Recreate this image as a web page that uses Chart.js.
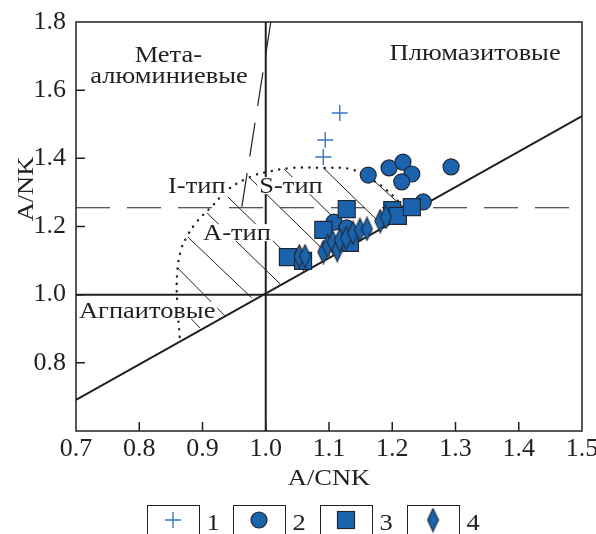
<!DOCTYPE html>
<html>
<head>
<meta charset="utf-8">
<script src="https://cdn.jsdelivr.net/npm/chart.js@4.4.0/dist/chart.umd.min.js"></script>
<style>
body{margin:0;background:#fff}
#wrap{width:596px;height:534px}
</style>
</head>
<body>
<div id="wrap"><canvas id="grafShand" width="596" height="534"></canvas></div>
<script>
// Диаграмма A/NK - A/CNK (Shand)

// ejes
var xTicks = [0.7, 0.8, 0.9, 1.0, 1.1, 1.2, 1.3, 1.4, 1.5];
var yTicks = [0.8, 1.0, 1.2, 1.4, 1.6, 1.8];

// 1 - cruces
var serie1X = [1.117, 1.094, 1.091];
var serie1Y = [1.533, 1.454, 1.404];
// 2 - circulos
var serie2X = [1.162, 1.195, 1.217, 1.231, 1.215, 1.293, 1.249, 1.108, 1.128];
var serie2Y = [1.351, 1.372, 1.389, 1.354, 1.331, 1.375, 1.272, 1.213, 1.196];
// 3 - cuadrados
var serie3X = [1.035, 1.059, 1.091, 1.128, 1.133, 1.200, 1.209, 1.231];
var serie3Y = [1.110, 1.099, 1.190, 1.251, 1.152, 1.248, 1.231, 1.257];
// 4 - rombos
var serie4X = [1.053, 1.062, 1.091, 1.098, 1.106, 1.113, 1.117, 1.127, 1.138, 1.149, 1.160, 1.181, 1.190];
var serie4Y = [1.113, 1.113, 1.125, 1.143, 1.154, 1.131, 1.160, 1.166, 1.181, 1.190, 1.193, 1.216, 1.228];

// lineas de los campos
var diagX = [0.7, 1.5];
var diagY = [0.691, 1.524];
var rayaHorizX = [0.7, 1.481];
var rayaHorizY = [1.255, 1.255];
var rayaVertX = [1.008, 0.962];
var rayaVertY = [1.8, 1.255];
// contorno punteado del campo A-tipo
var puntosX = [0.864, 0.860, 0.860, 0.866, 0.875, 0.888, 0.901, 0.917, 0.939, 0.975, 1.002, 1.043, 1.091, 1.133, 1.160, 1.185, 1.212, 1.222];
var puntosY = [0.876, 0.973, 1.064, 1.131, 1.169, 1.207, 1.234, 1.263, 1.307, 1.345, 1.360, 1.372, 1.372, 1.369, 1.345, 1.316, 1.269, 1.240];
// rayado (inicio y fin de cada linea)
var rayadoX0 = [0.860, 0.861, 0.877, 0.907, 0.940, 0.975, 1.029, 1.091, 1.154];
var rayadoY0 = [0.973, 1.078, 1.169, 1.240, 1.287, 1.342, 1.369, 1.372, 1.363];
var rayadoX1 = [0.896, 0.936, 0.978, 1.023, 1.062, 1.103, 1.146, 1.187, 1.227];
var rayadoY1 = [0.902, 0.937, 0.990, 1.031, 1.066, 1.110, 1.155, 1.199, 1.240];

var etiquetas = [
  {t: 'Мета-', x: 0.846, y: 1.683, fondo: false},
  {t: 'алюминиевые', x: 0.847, y: 1.621, fondo: false},
  {t: 'Плюмазитовые', x: 1.331, y: 1.688, fondo: false},
  {t: 'I-тип', x: 0.891, y: 1.298, fondo: true},
  {t: 'S-тип', x: 1.040, y: 1.298, fondo: true},
  {t: 'A-тип', x: 0.9545, y: 1.160, fondo: true},
  {t: 'Агпаитовые', x: 0.8125, y: 0.9315, fondo: true}
];

var azul = '#1b64ad';
var borde = '#1e2835';
var negro = '#231f20';

function pares(xs, ys) {
  return xs.map(function (v, i) { return {x: v, y: ys[i]}; });
}

function crearRombo() {
  var c = document.createElement('canvas');
  c.width = 13; c.height = 25;
  var g = c.getContext('2d');
  g.beginPath();
  g.moveTo(6.5, 1); g.lineTo(12, 12.5); g.lineTo(6.5, 24); g.lineTo(1, 12.5);
  g.closePath();
  g.fillStyle = azul; g.fill();
  g.lineWidth = 1.1; g.strokeStyle = borde; g.stroke();
  return c;
}
var rombo = crearRombo();

function linea(xs, ys, extra) {
  var d = {data: pares(xs, ys), showLine: true, pointRadius: 0, borderColor: negro, borderWidth: 2, fill: false, order: 10};
  for (var k in extra) d[k] = extra[k];
  return d;
}

var datasets = [
  {label: '4', data: pares(serie4X, serie4Y), pointStyle: rombo, order: 0},
  {label: '3', data: pares(serie3X, serie3Y), pointStyle: 'rect', pointRadius: 12, backgroundColor: azul, borderColor: borde, borderWidth: 1.2, order: 1},
  {label: '2', data: pares(serie2X, serie2Y), pointStyle: 'circle', pointRadius: 8, backgroundColor: azul, borderColor: borde, borderWidth: 1.2, order: 2},
  {label: '1', data: pares(serie1X, serie1Y), pointStyle: 'cross', pointRadius: 8, borderColor: '#3478c4', borderWidth: 1.4, order: 3},
  linea(diagX, diagY, {}),
  linea([1.0, 1.0], [0.6, 1.8], {}),
  linea([0.7, 1.5], [1.0, 1.0], {}),
  linea(rayaHorizX, rayaHorizY, {borderWidth: 1.2, borderDash: [34, 17]}),
  linea(rayaVertX, rayaVertY, {borderWidth: 1.2, borderDash: [34, 17]}),
  linea(puntosX, puntosY, {borderWidth: 2.4, borderDash: [0.1, 7.5], borderCapStyle: 'round', tension: 0.4})
];
for (var i = 0; i < rayadoX0.length; i++) {
  datasets.push(linea([rayadoX0[i], rayadoX1[i]], [rayadoY0[i], rayadoY1[i]], {borderWidth: 1}));
}

function texto(ctx, t, x, y, fondo) {
  var sx = 1.15;
  ctx.save();
  ctx.font = '23px "Liberation Serif"';
  var w = ctx.measureText(t).width * sx;
  if (fondo) {
    ctx.fillStyle = '#fff';
    ctx.fillRect(x - w / 2 - 2, y - 16, w + 4, 17);
  }
  ctx.translate(x, y);
  ctx.scale(sx, 1);
  ctx.fillStyle = negro;
  ctx.textAlign = 'center';
  ctx.textBaseline = 'alphabetic';
  ctx.fillText(t, 0, 0);
  ctx.restore();
}

var pluginMarco = {
  id: 'marco',
  afterDatasetsDraw: function (chart) {
    var ctx = chart.ctx, a = chart.chartArea, sx = chart.scales.x, sy = chart.scales.y;
    etiquetas.forEach(function (e) {
      texto(ctx, e.t, sx.getPixelForValue(e.x), sy.getPixelForValue(e.y), e.fondo);
    });
    ctx.save();
    ctx.strokeStyle = negro;
    ctx.lineWidth = 1.5;
    ctx.strokeRect(a.left, a.top, a.right - a.left, a.bottom - a.top);
    ctx.beginPath();
    xTicks.slice(1, -1).forEach(function (v) {
      var p = sx.getPixelForValue(v);
      ctx.moveTo(p, a.bottom); ctx.lineTo(p, a.bottom - 9);
    });
    yTicks.slice(0, -1).forEach(function (v) {
      var p = sy.getPixelForValue(v);
      ctx.moveTo(a.left, p); ctx.lineTo(a.left + 9, p);
    });
    ctx.stroke();
    ctx.restore();

    // titulos de ejes
    texto(ctx, 'A/CNK', (a.left + a.right) / 2, a.bottom + 54, false);
    ctx.save();
    ctx.translate(33, 189);
    ctx.rotate(-Math.PI / 2);
    texto(ctx, 'A/NK', 0, 0, false);
    ctx.restore();

    // leyenda
    var cajas = [147, 233, 320, 407];
    ctx.save();
    ctx.strokeStyle = negro;
    ctx.lineWidth = 1;
    cajas.forEach(function (x0, k) {
      ctx.strokeRect(x0 + 0.5, 505.5, 52, 40);
      var cx = x0 + 26, cy = 520;
      ctx.fillStyle = azul;
      ctx.strokeStyle = borde;
      ctx.lineWidth = 1.2;
      if (k === 0) {
        ctx.strokeStyle = '#3478c4'; ctx.lineWidth = 1.4;
        ctx.beginPath();
        ctx.moveTo(cx - 8, cy); ctx.lineTo(cx + 8, cy);
        ctx.moveTo(cx, cy - 8); ctx.lineTo(cx, cy + 8);
        ctx.stroke();
      } else if (k === 1) {
        ctx.beginPath(); ctx.arc(cx, cy, 8, 0, Math.PI * 2); ctx.fill(); ctx.stroke();
      } else if (k === 2) {
        ctx.fillRect(cx - 8.5, cy - 8.5, 17, 17); ctx.strokeRect(cx - 8.5, cy - 8.5, 17, 17);
      } else {
        ctx.drawImage(rombo, cx - 6.5, cy - 12.5);
      }
      ctx.strokeStyle = negro;
      ctx.lineWidth = 1;
      texto(ctx, String(k + 1), x0 + 66, 530, false);
    });
    ctx.restore();
  }
};

new Chart(document.getElementById('grafShand'), {
  type: 'scatter',
  data: {datasets: datasets},
  plugins: [pluginMarco],
  options: {
    responsive: false,
    animation: false,
    events: [],
    layout: {padding: {top: 22, right: 14, left: 0, bottom: 0}},
    plugins: {legend: {display: false}, tooltip: {enabled: false}},
    font: {family: '"Liberation Serif"'},
    scales: {
      x: {
        type: 'linear', min: 0.7, max: 1.5,
        afterBuildTicks: function (s) { s.ticks = xTicks.map(function (v) { return {value: v}; }); },
        afterFit: function (s) { s.height = 103; s.paddingLeft = 0; s.paddingRight = 0; },
        grid: {display: false, drawTicks: false},
        border: {display: false},
        ticks: {padding: 3, color: negro, font: {family: '"Liberation Serif"', size: 26}, maxRotation: 0, autoSkip: false,
          callback: function (v) { return Number(v).toFixed(1); }}
      },
      y: {
        type: 'linear', min: 0.6, max: 1.8,
        afterBuildTicks: function (s) { s.ticks = yTicks.map(function (v) { return {value: v}; }); },
        afterFit: function (s) { s.width = 76; s.paddingTop = 0; s.paddingBottom = 0; },
        grid: {display: false, drawTicks: false},
        border: {display: false},
        ticks: {padding: 10, color: negro, font: {family: '"Liberation Serif"', size: 26}, autoSkip: false,
          callback: function (v) { return Number(v).toFixed(1); }}
      }
    }
  }
});
</script>
</body>
</html>
